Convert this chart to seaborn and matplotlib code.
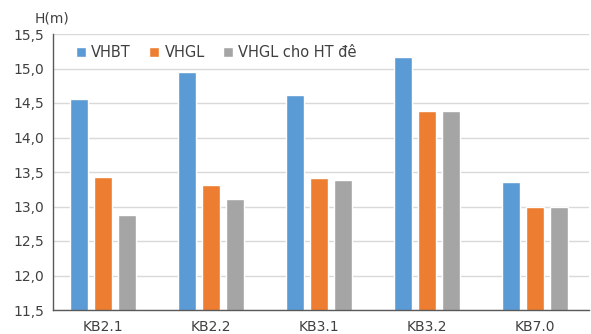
import seaborn as sns
import matplotlib.pyplot as plt
import pandas as pd
from matplotlib.ticker import FuncFormatter, MultipleLocator

categories = ['KB2.1', 'KB2.2', 'KB3.1', 'KB3.2', 'KB7.0']
series = ['VHBT', 'VHGL', 'VHGL cho HT đê']
vhbt = [14.56, 14.95, 14.62, 15.16, 13.35]
vhgl = [13.43, 13.31, 13.41, 14.39, 13.00]
vhgl_ht = [12.87, 13.11, 13.39, 14.39, 13.00]
colors = ['#5B9BD5', '#ED7D31', '#A5A5A5']

df = pd.DataFrame({
    'cat': categories * 3,
    'series': [s for s in series for _ in categories],
    'H': vhbt + vhgl + vhgl_ht,
})

sns.set_style('white')
plt.rcParams['font.family'] = ['DejaVu Sans']

fig = plt.figure(figsize=(5.91, 3.34), dpi=100)
ax = fig.add_axes([53 / 591, 24 / 334, 536 / 591, 276 / 334])

sns.barplot(data=df, x='cat', y='H', hue='series', hue_order=series,
            palette=colors, width=0.67, gap=0.25, ax=ax, saturation=1)

ax.set_ylim(11.5, 15.5)
ax.yaxis.set_major_locator(MultipleLocator(0.5))
ax.yaxis.set_major_formatter(FuncFormatter(lambda v, p: f'{v:.1f}'.replace('.', ',')))
ax.set_xlim(-0.465, 4.5)
ax.set_xlabel('')
ax.set_ylabel('')
ax.grid(axis='y', color='#d9d9d9', linewidth=1)
ax.set_axisbelow(True)
for s in ['top', 'right']:
    ax.spines[s].set_visible(False)
for s in ['left', 'bottom']:
    ax.spines[s].set_color('#595959')
    ax.spines[s].set_linewidth(1)
ax.tick_params(axis='both', labelsize=10, colors='#404040', length=0, pad=7)
ax.tick_params(axis='y', length=3, color='#595959', pad=3)

ax.text(-0.035, 1.03, 'H(m)', transform=ax.transAxes, fontsize=10, color='#404040', ha='left', va='bottom')

ax.legend(loc='center left', bbox_to_anchor=(0.043, 0.932), ncol=3, frameon=False, fontsize=10.5,
          handlelength=0.65, handleheight=0.65, handletextpad=0.4, columnspacing=1.25,
          borderaxespad=0, borderpad=0, labelcolor='#404040')

fig.savefig('out.png', dpi=100)
